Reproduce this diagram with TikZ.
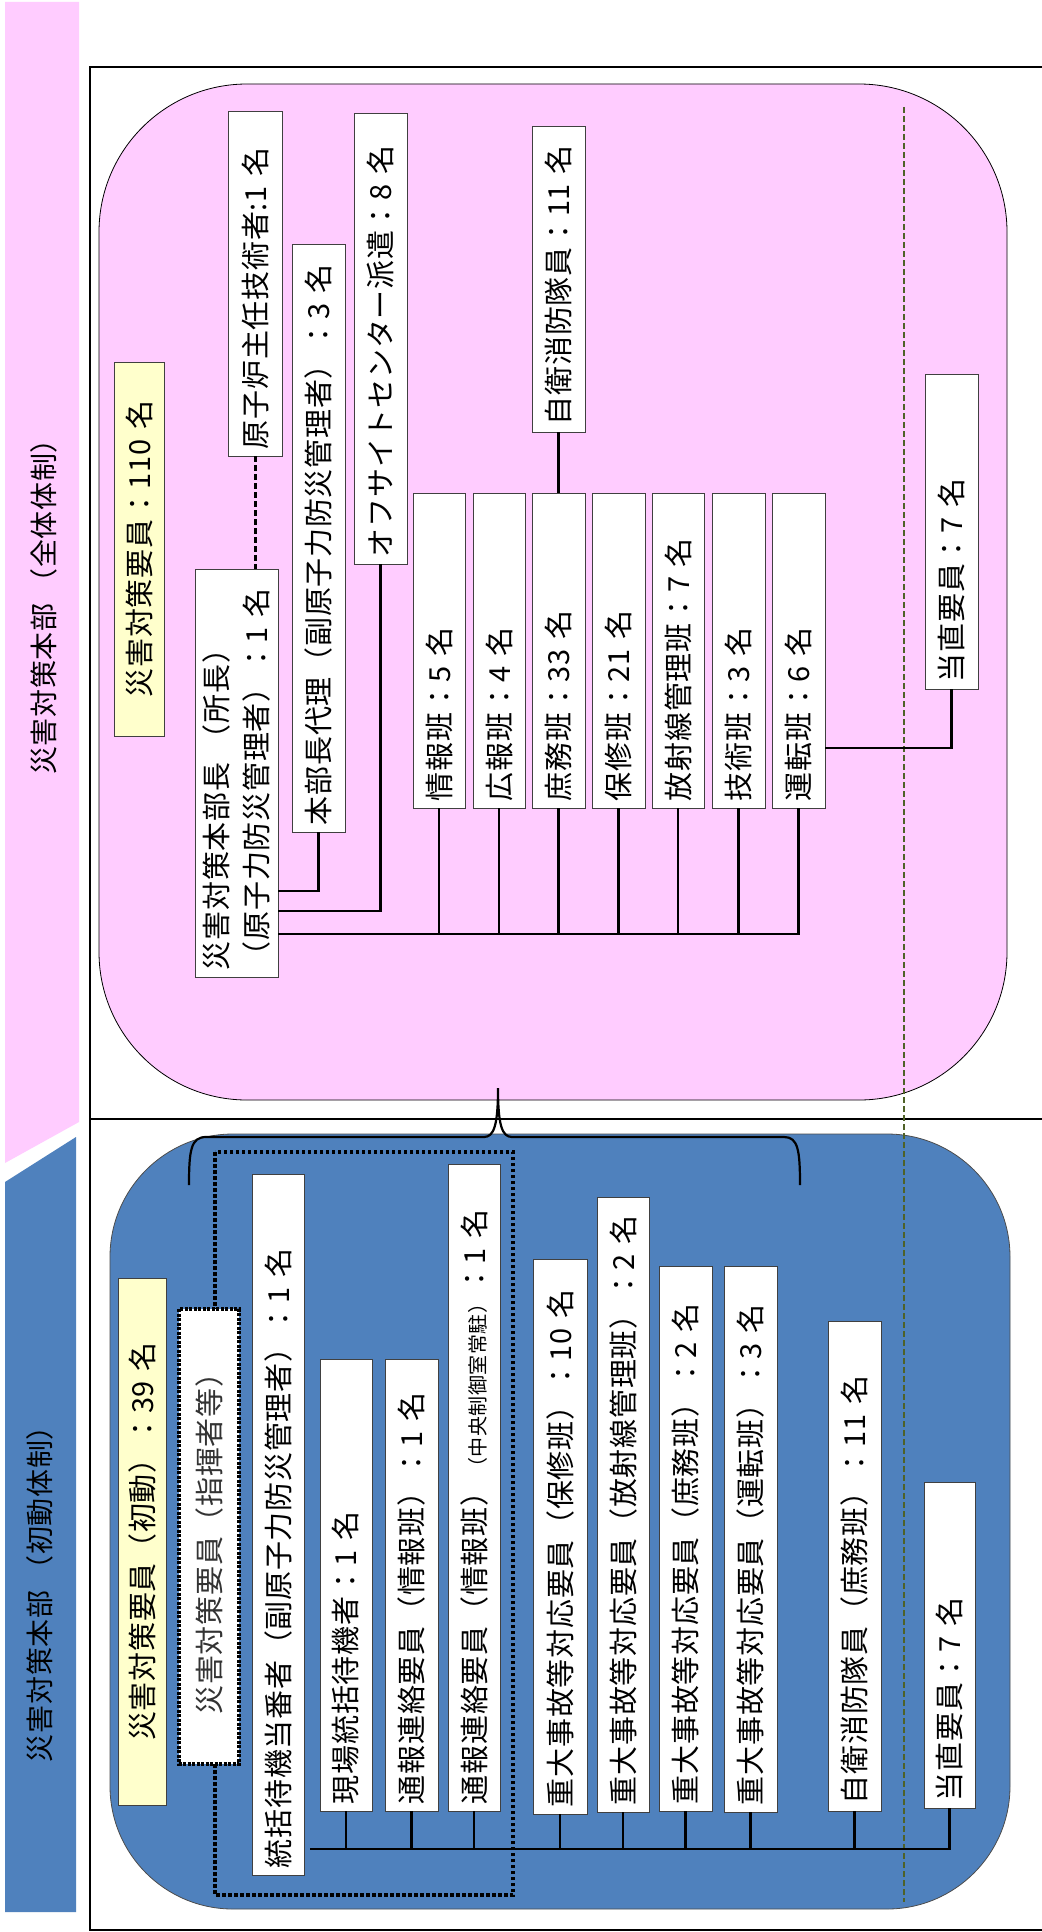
\documentclass[tikz,border=0pt]{standalone}
\usepackage{fontspec}
\setmainfont{Noto Sans CJK JP}[LetterSpace=2.5]
\usetikzlibrary{calc}
\definecolor{pinkc}{RGB}{255,204,255}
\definecolor{bluec}{RGB}{79,129,189}
\definecolor{yelc}{RGB}{255,255,204}
\definecolor{olivc}{RGB}{79,98,40}
\newcommand{\bxn}[7][]{%
  \pgfmathsetmacro\bxW{#6-#4-14}%
  \node[bx,text width=\bxW pt,minimum height={#5-#3},minimum width={#6-#4},#1] (#2) at ({(#3+#5)/2},{(#4+#6)/2}) {#7};}
\tikzset{
  bx/.style={draw=black!75, fill=white, line width=0.9pt, rotate=90, inner xsep=7pt, inner ysep=0pt, align=left, font=\fontsize{29}{40}\selectfont, text=black},
  yel/.style={fill=yelc, align=center},
  shiki/.style={draw=black, line width=3.6pt, dash pattern=on 3pt off 1.5pt, text=black!80, align=center},
  conn/.style={line width=2.6pt, line join=miter},
  dconn/.style={line width=3pt, dash pattern=on 6pt off 3pt},
  ttl/.style={rotate=90, font=\fontsize{28}{34}\selectfont, inner sep=0pt, text=black},
  frame/.style={line width=1.6pt},
}
\begin{document}
\begin{tikzpicture}[x=1pt,y=-1pt]
\useasboundingbox[fill=white] (0,0) rectangle (1041,1932);
% side bands
\fill[pinkc] (5,2) -- (79,2) -- (79,1122) -- (5,1163) -- cycle;
\fill[bluec] (5,1182) -- (76,1137) -- (76,1912) -- (5,1912) -- cycle;
\node[ttl] (t1) at (44,600) {災害対策本部 （全体体制）};
\node[ttl] (t2) at (40,1587) {災害対策本部 （初動体制）};
% frame
\draw[frame] (1045,67) -- (90,67) -- (90,1930) -- (1045,1930);
\draw[frame] (90,1119) -- (1045,1119);
% regions
\draw[fill=pinkc, draw=black, line width=0.8pt, rounded corners=148pt] (99,84) rectangle (1007,1100);
\draw[fill=bluec, draw=black!70, line width=0.8pt, rounded corners=123pt] (110,1134) rectangle (1010,1909);
\draw[olivc, line width=2.2pt, dash pattern=on 6pt off 3pt] (904,107) -- (904,1902);
% brace
\draw[line width=2.2pt] (189,1185) .. controls (189,1150) and (191,1137) .. (206,1137) -- (484,1137) .. controls (494,1137) and (498,1125) .. (498,1088) .. controls (498,1125) and (502,1137) .. (512,1137) -- (784,1137) .. controls (798,1137) and (800,1150) .. (800,1185);
% dotted group
\draw[line width=3.6pt, dash pattern=on 3.5pt off 2.5pt] (215,1152) rectangle (513,1895);
% ---------- pink boxes
\bxn[yel]{tot}{114}{362}{164}{736}{災害対策要員：110 名}
\bxn{hq}{195}{569}{278}{977}{\mbox{災害対策本部長 （所長）}\\\mbox{（原子力防災管理者）：1 名}}
\bxn{gen}{228}{111}{282}{456}{原子炉主任技術者:1 名}
\bxn{dairi}{292}{244}{345}{832}{本部長代理（副原子力防災管理者）：3 名}
\bxn{off}{354}{113}{407}{564}{オフサイトセンター派遣：8 名}
\bxn{jiei}{532}{126}{585}{432}{自衛消防隊員：11 名}
\bxn{joho}{413}{493}{465}{808}{情報班：5 名}
\bxn{koho}{473}{493}{525}{808}{広報班：4 名}
\bxn{shomu}{532}{493}{585}{808}{庶務班：33 名}
\bxn{hoshu}{592}{493}{645}{808}{保修班：21 名}
\bxn{hosha}{652}{493}{704}{808}{放射線管理班：7 名}
\bxn{gijutsu}{712}{493}{765}{808}{技術班：3 名}
\bxn{unten}{772}{493}{825}{808}{運転班：6 名}
\bxn{tochoku}{925}{374}{978}{689}{当直要員：7 名}
% ---------- blue boxes
\bxn[yel]{tot2}{118}{1278}{166}{1805}{災害対策要員（初動）：39 名}
\bxn[shiki]{shiki}{179}{1309}{239}{1764}{災害対策要員（指揮者等）}
\bxn{touban}{252}{1174}{304}{1875}{\mbox{統括待機当番者（副原子力防災管理者）：1 名}}
\bxn{genba}{320}{1359}{372}{1811}{現場統括待機者：1 名}
\bxn{tsuho}{385}{1359}{438}{1811}{通報連絡要員（情報班）：1 名}
\bxn{tsuho2}{448}{1164}{500}{1811}{\mbox{通報連絡要員（情報班）{\fontsize{20}{24}\selectfont （中央制御室常駐）}：1 名}}
\bxn{j1}{533}{1259}{587}{1814}{\mbox{重大事故等対応要員（保修班）：10 名}}
\bxn{j2}{597}{1197}{649}{1812}{\mbox{重大事故等対応要員（放射線管理班）：2 名}}
\bxn{j3}{659}{1266}{712}{1811}{\mbox{重大事故等対応要員（庶務班）：2 名}}
\bxn{j4}{724}{1266}{777}{1812}{\mbox{重大事故等対応要員（運転班）：3 名}}
\bxn{jiei2}{828}{1321}{881}{1811}{\mbox{自衛消防隊員（庶務班）：11 名}}
\bxn{tochoku2}{924}{1482}{975}{1808}{当直要員：7 名}
% ---------- connectors
\coordinate (yDai) at (0,891);
\coordinate (yOff) at (0,911);
\coordinate (pbus) at (0,934);
\coordinate (yTo) at (0,748);
\coordinate (bstart) at (310,1849);
\draw[dconn] (gen.west) -- (gen.west |- hq.east);
\draw[conn] (dairi.west) |- (hq.south |- yDai);
\draw[conn] (off.west) |- (hq.south |- yOff);
\draw[conn] (unten.west) |- (hq.south |- pbus);
\foreach \n in {joho,koho,shomu,hoshu,hosha,gijutsu}
  \draw[conn] (\n.west) -- (\n.west |- pbus);
\draw[conn] (jiei.west) -- (shomu.east);
\draw[conn] (unten.south |- yTo) -| (tochoku.west);
\draw[conn] (tochoku2.west) |- (bstart);
\foreach \n in {genba,tsuho,tsuho2,j1,j2,j3,j4,jiei2}
  \draw[conn] (\n.west) -- (\n.west |- bstart);
\end{tikzpicture}
\end{document}
